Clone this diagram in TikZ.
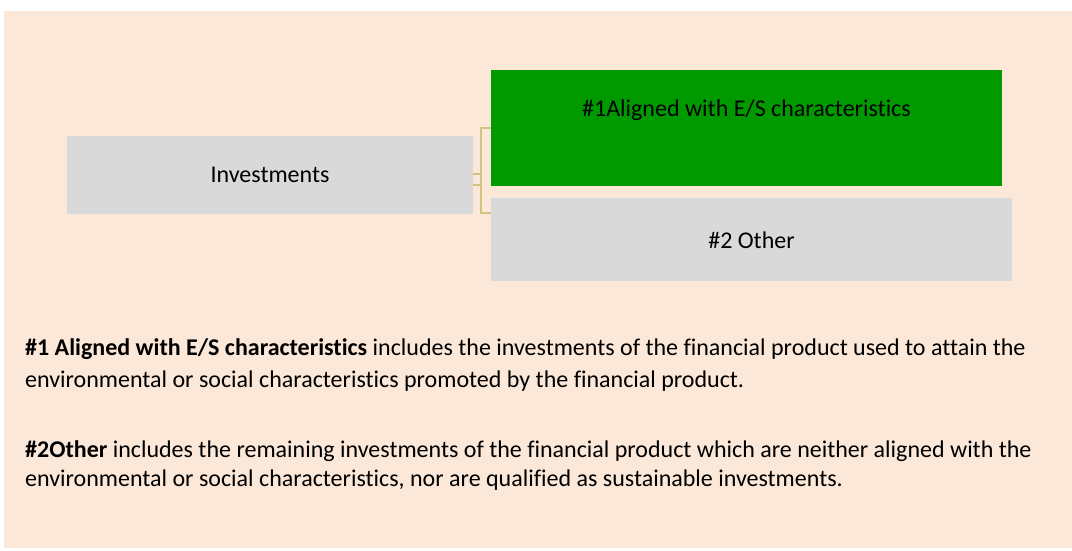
\documentclass[tikz,border=0pt]{standalone}
\usepackage{fontspec}
\setmainfont{Carlito}[Ligatures=CommonOff]
\definecolor{beige}{HTML}{FBE8D8}
\definecolor{boxgray}{HTML}{D9D9D9}
\definecolor{boxgreen}{HTML}{009900}
\definecolor{gold}{HTML}{D4C281}
\tikzset{
  box/.style={inner sep=0pt, outer sep=0pt, font=\fontsize{24}{29}\selectfont},
  link/.style={draw=gold, line width=2pt},
  body/.style={anchor=base west, inner sep=0pt, font=\fontsize{24}{29}\selectfont}
}
\begin{document}
\begin{tikzpicture}[x=1pt,y=-1pt]
\useasboundingbox (0,0) rectangle (1072,551);
\fill[white] (0,0) rectangle (1072,551);
\fill[beige] (4,11) rectangle (1072,548);
% boxes
\fill[boxgray] (67,136) rectangle (473,214);
\node[box] (inv) at (270,175) {Investments};
\coordinate (invE) at (473,175);
\fill[boxgreen] (491,70) rectangle (1002,186);
\node[box] (al) at (746.5,110) {\#1Aligned with E/S characteristics};
\coordinate (alW) at (491,128);
\fill[boxgray] (491,198) rectangle (1012,281);
\node[box] (ot) at (751.5,240) {\#2 Other};
\coordinate (otW) at (491,213);
% connectors
\draw[link] ([yshift=-10pt]invE) -| (481,128) -- (alW);
\draw[link] ([yshift=1pt]invE) -| (481,213) -- (otW);
% body text
\node[body] (t1) at (25,355) {\textbf{\#1 Aligned with E/S characteristics} includes the investments of the financial product used to attain the};
\node[body] (t2) at (25,387) {environmental or social characteristics promoted by the financial product.};
\node[body] (t3) at (25,457) {\textbf{\#2Other} includes the remaining investments of the financial product which are neither aligned with the};
\node[body] (t4) at (25,486) {environmental or social characteristics, nor are qualified as sustainable investments.};
\end{tikzpicture}
\end{document}
